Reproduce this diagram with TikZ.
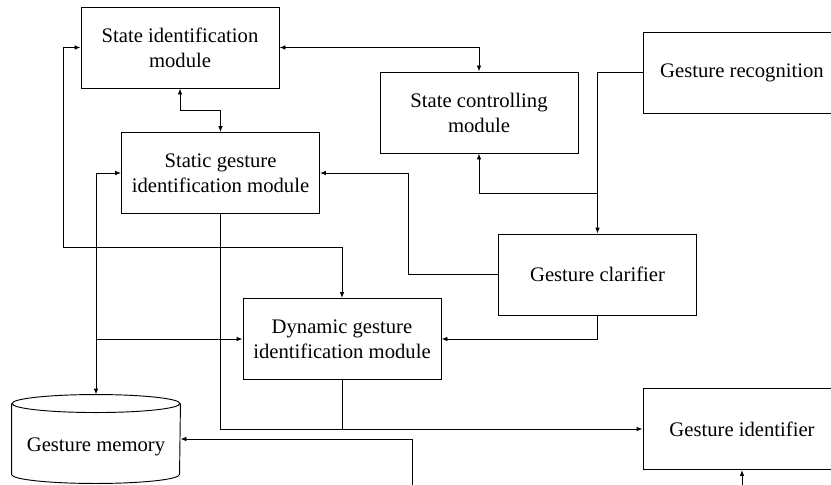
\documentclass[tikz,border=0pt]{standalone}
\usepackage{fontspec}
\setmainfont{Liberation Serif}
\usetikzlibrary{arrows.meta}

\begin{document}
\begin{tikzpicture}[x=0.75pt,y=-0.75pt,line width=0.7pt,>={Latex[length=4.5pt,width=3.5pt]},
    blocktext/.style={font=\fontsize{15.5}{18.75}\selectfont},
    block/.style={draw,rectangle,inner sep=0pt,minimum width=148.5pt,minimum height=60.75pt,align=center,blocktext},
    store/.style={rectangle,inner sep=0pt,minimum width=126pt,minimum height=66pt},
    capradii/.style={x radius=63pt,y radius=6.75pt}]
    \useasboundingbox (0,0) rectangle (831,485);
    \clip (0,0) rectangle (831,485);

    \node[block] (stateid) at (180,47.5) {State identification\\module};
    \node[block] (statectrl) at (479,112.5) {State controlling\\module};
    \node[block] (recog) at (742,72.5) {Gesture recognition};
    \node[block] (static) at (220.5,173) {Static gesture\\identification module};
    \node[block] (clarifier) at (597.5,274.5) {Gesture clarifier};
    \node[block] (dynamic) at (342,339) {Dynamic gesture\\identification module};
    \node[block] (identifier) at (742,429) {Gesture identifier};
    \node[store] (memory) at (96,439) {};
    \node[blocktext] (memlabel) at (96,447) {Gesture memory};

    \draw ([yshift=-6.75pt]memory.north) ellipse [capradii];
    \draw ([yshift=-6.75pt]memory.north west) -- ([yshift=6.75pt]memory.south west)
        arc [start angle=180,end angle=360,capradii] -- ([yshift=-6.75pt]memory.north east);

    \coordinate (split) at (597.5,193);
    \coordinate (tap) at (96,339);
    \coordinate (feedin) at (412,490);
    \coordinate (idin) at (742,490);

    \draw[<->] (stateid.west) -| (63,247) -| (dynamic.north);
    \draw[<->] (stateid.east) -| (statectrl.north);
    \draw[<->] (stateid.south) -- ++(0,22) -| (static.north);
    \draw[->] (recog.west) -| (clarifier.north);
    \draw[->] (split) -| (statectrl.south);
    \draw[->] (clarifier.west) -- ++(-90,0) |- (static.east);
    \draw[->] (clarifier.south) |- (dynamic.east);
    \draw[<->] (static.west) -| (memory.north);
    \draw[->] (tap) -- (dynamic.west);
    \draw[->] (static.south) |- (identifier.west);
    \draw (dynamic.south) -- (dynamic.south |- identifier.west);
    \draw[->] (feedin) |- (memory.east);
    \draw[->] (idin) -- (identifier.south);

\end{tikzpicture}
\end{document}
